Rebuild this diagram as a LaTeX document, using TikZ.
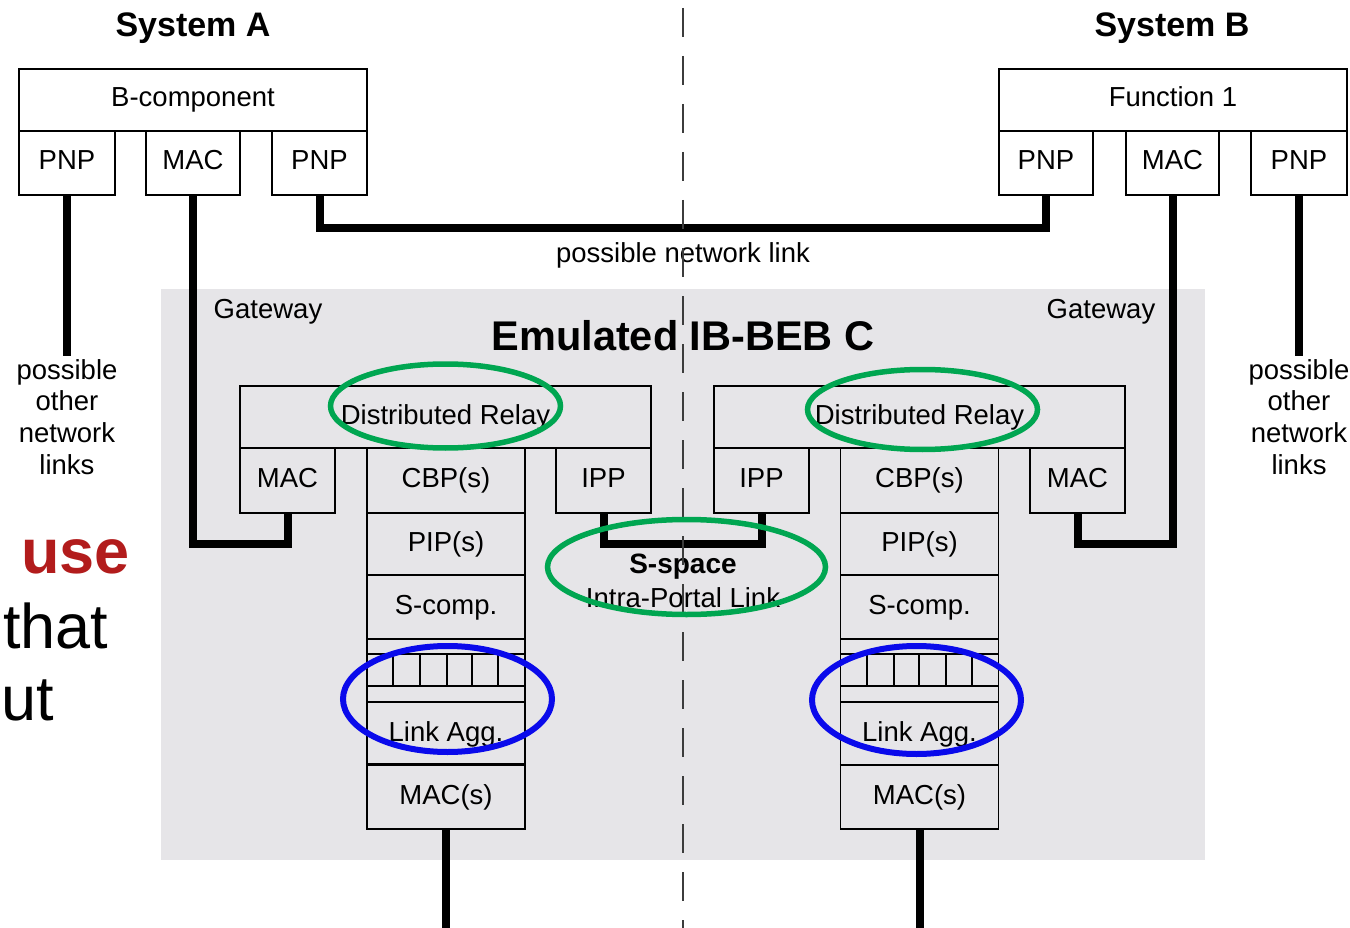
\documentclass[tikz,border=0pt]{standalone}
\usepackage{fontspec}
\setmainfont{Liberation Sans}
\usetikzlibrary{calc,shapes.geometric}
\definecolor{bgray}{RGB}{230,229,232}
\definecolor{ovgreen}{RGB}{0,166,81}
\definecolor{ovblue}{RGB}{10,10,235}
\definecolor{usered}{RGB}{178,28,28}
\definecolor{dashgray}{RGB}{60,60,60}
\newcommand\fnorm{\fontsize{27.5pt}{31.7pt}\selectfont}
\newcommand\ftitle{\fontsize{34pt}{40pt}\selectfont\bfseries}
\newcommand\fbig{\fontsize{41.5pt}{48pt}\selectfont\bfseries}
\newcommand\fsbold{\fontsize{28pt}{32pt}\selectfont\bfseries}
\newcommand\fcut{\fontsize{63pt}{72pt}\selectfont}
\begin{document}
\begin{tikzpicture}[x=1pt,y=-1pt,
  box/.style={draw, line width=1.3pt, inner sep=0pt, font=\fnorm, text height=20pt, text depth=6pt},
  link/.style={line width=8pt, line join=miter},
  lbl/.style={inner sep=0pt, anchor=base, font=\fnorm},
  oval/.style={ellipse, draw, line width=5.5pt, inner sep=0pt},
  thin/.style={line width=1.3pt},
]
\useasboundingbox (0,0) rectangle (1350,928);
% gateway background
\fill[bgray] (161,289) rectangle (1205,860);

% ---------- System A ----------
\node[lbl, font=\ftitle] (titA) at (193,37) {System A};
\node[box, minimum width=348pt, minimum height=62pt] (bcomp) at (193,100) {B-component};
\node[box, minimum width=96pt, minimum height=64pt] (pnpA1) at (67,163) {PNP};
\node[box, minimum width=94pt, minimum height=64pt] (macA) at (193,163) {MAC};
\node[box, minimum width=95pt, minimum height=64pt] (pnpA2) at (319.5,163) {PNP};

% ---------- System B ----------
\node[lbl, font=\ftitle] (titB) at (1172,37) {System B};
\node[box, minimum width=348pt, minimum height=62pt] (func) at (1173,100) {Function 1};
\node[box, minimum width=94pt, minimum height=64pt] (pnpB1) at (1046,163) {PNP};
\node[box, minimum width=93pt, minimum height=64pt] (macB) at (1172.5,163) {MAC};
\node[box, minimum width=96pt, minimum height=64pt] (pnpB2) at (1299,163) {PNP};

% ---------- labels ----------
\node[lbl] (netlink) at (683,263) {possible network link};
\node[font=\fnorm, align=center, inner sep=0pt, anchor=north] (othA) at (67,359) {possible\\other\\network\\links};
\node[font=\fnorm, align=center, inner sep=0pt, anchor=north] (othB) at (1299,359) {possible\\other\\network\\links};
\node[lbl] (gwL) at (268,319) {Gateway};
\node[lbl] (gwR) at (1101,319) {Gateway};
\node[lbl, font=\fbig] (emu) at (683,350) {Emulated IB-BEB C};

% ---------- Left gateway ----------
\node[box, minimum width=411pt, minimum height=62pt] (drL) at (445.5,417) {Distributed Relay};
\node[box, minimum width=95pt, minimum height=65pt] (gmacL) at (287.5,480.5) {MAC};
\node[box, minimum width=158pt, minimum height=65pt] (cbpL) at (446,480.5) {CBP(s)};
\node[box, minimum width=95pt, minimum height=65pt] (ippL) at (603.5,480.5) {IPP};
\node[box, minimum width=158pt, minimum height=62pt] (pipL) at (446,544) {PIP(s)};
\node[box, minimum width=158pt, minimum height=64pt] (scompL) at (446,607) {S-comp.};
\node[box, minimum width=158pt, minimum height=126pt] (laL) at (446,702) {};
\node[box, minimum width=158pt, minimum height=64pt] (macsL) at (446,797) {MAC(s)};
\node[lbl] (laLt) at (446,741) {Link Agg.};
\draw[thin] (367,654) -- (525,654) (367,686) -- (525,686) (367,702) -- (525,702);
\foreach \xx in {393,420,447,472,498} \draw[thin] (\xx,654) -- (\xx,686);
\draw[line width=2.6pt] (macsL.north west) -- (macsL.north east);

% ---------- Right gateway ----------
\node[box, minimum width=411pt, minimum height=62pt] (drR) at (919.5,417) {Distributed Relay};
\node[box, minimum width=95pt, minimum height=65pt] (ippR) at (761.5,480.5) {IPP};
\node[box, minimum width=158pt, minimum height=65pt] (cbpR) at (919.5,480.5) {CBP(s)};
\node[box, minimum width=95pt, minimum height=65pt] (gmacR) at (1077.5,480.5) {MAC};
\node[box, minimum width=158pt, minimum height=62pt] (pipR) at (919.5,544) {PIP(s)};
\node[box, minimum width=158pt, minimum height=64pt] (scompR) at (919.5,607) {S-comp.};
\node[box, minimum width=158pt, minimum height=126pt] (laR) at (919.5,702) {};
\node[box, minimum width=158pt, minimum height=64pt] (macsR) at (919.5,797) {MAC(s)};
\node[lbl] (laRt) at (919.5,741) {Link Agg.};
\draw[thin] (840.5,654) -- (998.5,654) (840.5,686) -- (998.5,686) (840.5,702) -- (998.5,702);
\foreach \xx in {867,894,919,946,972} \draw[thin] (\xx,654) -- (\xx,686);
\draw[thin] (macsR.north west) -- (macsR.north east);

% ---------- S-space ----------
\node[lbl, font=\fsbold] (sspace) at (683,573) {S-space};
\node[lbl] (ipl) at (683,607) {Intra-Portal Link};

% ---------- thick links ----------
\draw[link] (pnpA1.south) -- ($(othA.north)+(0,-3)$);
\draw[link] (pnpB2.south) -- ($(othB.north)+(0,-3)$);
\draw[link] (macA.south) |- ($(gmacL.south)+(0,30)$) -- (gmacL.south);
\draw[link] (macB.south) |- ($(gmacR.south)+(0,30)$) -- (gmacR.south);
\draw[link] (pnpA2.south) |- ($(pnpB1.south)+(0,32)$) -- (pnpB1.south);
\draw[link] (ippL.south) |- ($(ippR.south)+(0,30)$) -- (ippR.south);
\coordinate (endL) at (446,928);
\coordinate (endR) at (919.5,928);
\draw[link] (macsL.south) -- (endL);
\draw[link] (macsR.south) -- (endR);

% ---------- cut-off text at left ----------
\node[inner sep=0pt, anchor=base west, font=\fcut\bfseries, text=usered] (cut1) at (21,573) {use};
\node[inner sep=0pt, anchor=base west, font=\fcut] (cut2) at (3,648) {that};
\node[inner sep=0pt, anchor=base west, font=\fcut] (cut3) at (1,720) {ut};

% ---------- dashed divider ----------
\coordinate (dtop) at (683,8);
\coordinate (dbot) at (683,928);
\draw[dashgray, line width=1.5pt, dash pattern=on 29pt off 19pt] (dtop) -- (dbot);

% ---------- ovals ----------
\node[oval, ovgreen, minimum width=230pt, minimum height=84pt] (ovDRL) at (445.5,406) {};
\node[oval, ovgreen, minimum width=230pt, minimum height=80pt] (ovDRR) at (922.5,409.5) {};
\node[oval, ovgreen, minimum width=278pt, minimum height=95pt] (ovS) at (686.5,567) {};
\node[oval, ovblue, line width=6pt, minimum width=209pt, minimum height=106pt] (ovLAL) at (447.5,699) {};
\node[oval, ovblue, line width=6pt, minimum width=209pt, minimum height=108pt] (ovLAR) at (916.5,700) {};
\end{tikzpicture}
\end{document}
